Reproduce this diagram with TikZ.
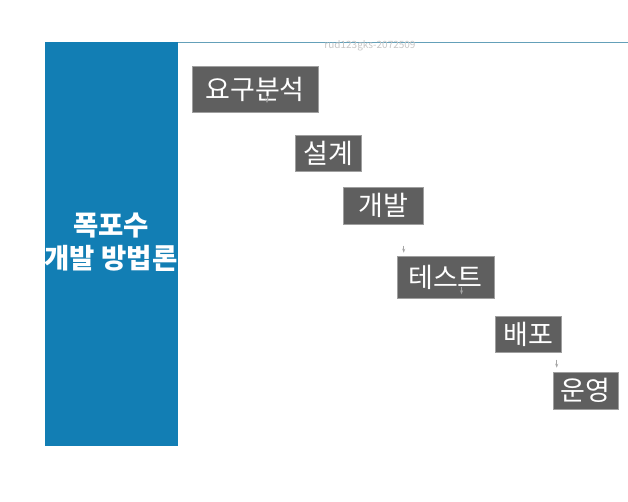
\documentclass[tikz,border=0pt]{standalone}
\usepackage{fontspec}
\setmainfont{Noto Sans CJK KR}
\usetikzlibrary{arrows.meta, positioning}
\definecolor{wfblue}{RGB}{18,126,180}
\definecolor{stepgray}{RGB}{95,95,95}
\definecolor{toprule}{RGB}{100,160,185}

\tikzset{
    phase/.style={fill=stepgray, draw=gray!75, line width=0.6pt, text=white,
        font=\fontsize{27}{29}\selectfont, inner sep=0pt, anchor=center},
    tick/.style={-{Stealth[length=4pt,width=3pt]}, gray!70, line width=0.8pt}
}

\begin{document}
\begin{tikzpicture}[x=1pt, y=-1pt]
        \useasboundingbox (0,0) rectangle (628,502);

        % Header line and title bar
        \draw[toprule, line width=0.7pt] (178,42) -- (628,42);
        \fill[wfblue] (45,42) rectangle (178,446);
        \node[white, align=center, font=\bfseries\fontsize{27.5}{33}\selectfont] (title) at (111,242) {폭포수\\개발 방법론};

        % Watermark
        \node[gray!45, font=\fontsize{10}{11}\selectfont] (mark) at (370,46) {rud123gks-2072509};

        % Phases
        \node[phase, minimum width=126pt, minimum height=46pt] (req) at (255,89) {요구분석};
        \node[phase, minimum width=66pt, minimum height=36pt] (design) at (328,153.5) {설계};
        \node[phase, minimum width=80pt, minimum height=37pt] (dev) at (383,205.5) {개발};
        \node[phase, minimum width=97pt, minimum height=42pt] (test) at (445.5,277) {테스트};
        \node[phase, minimum width=66pt, minimum height=36pt] (deploy) at (528,334) {배포};
        \node[phase, minimum width=65pt, minimum height=37pt] (ops) at (585.5,390.5) {운영};

        % Small arrow marks
        \coordinate (t1) at ([xshift=12pt, yshift=-7pt]req.center);
        \draw[tick] (t1) -- ++(0,7);
        \coordinate (t2) at ([xshift=7pt, yshift=10pt]test.north west);
        \draw[tick] (t2) -- ++(0,7);
        \coordinate (t3) at ([xshift=16pt, yshift=11pt]test.south);
        \draw[tick] (t3) -- ++(0,7);
        \coordinate (t4) at ([xshift=4pt, yshift=12pt]ops.north west);
        \draw[tick] (t4) -- ++(0,8);

    \end{tikzpicture}
\end{document}
